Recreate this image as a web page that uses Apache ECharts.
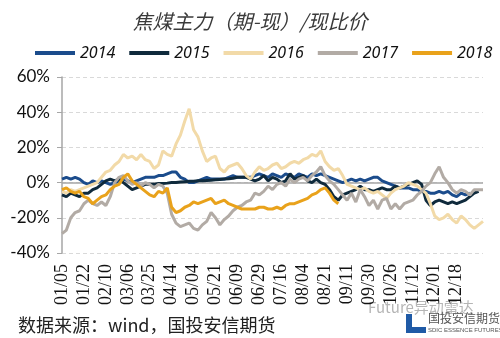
<!DOCTYPE html>
<html>
<head>
<meta charset="utf-8">
<script src="https://cdn.jsdelivr.net/npm/echarts@6/dist/echarts.min.js"></script>
<style>
  html, body { margin: 0; padding: 0; background: #fff; }
  #chart { width: 500px; height: 338px; }
</style>
</head>
<body>
<div id="chart"></div>
<script>
// Trading-day axis (MM/DD), every 5th date is labelled
const dates = [
  '01/05','01/08','01/11','01/15','01/18',
  '01/22','01/25','01/29','02/01','02/06',
  '02/10','02/14','02/20','02/26','03/01',
  '03/06','03/09','03/13','03/16','03/21',
  '03/25','03/29','04/02','04/07','04/10',
  '04/14','04/18','04/22','04/25','04/29',
  '05/04','05/07','05/10','05/14','05/17',
  '05/21','05/24','05/28','05/31','06/05',
  '06/09','06/13','06/17','06/21','06/25',
  '06/29','07/03','07/06','07/09','07/12',
  '07/16','07/19','07/23','07/26','07/31',
  '08/04','08/07','08/10','08/14','08/17',
  '08/21','08/25','08/29','09/02','09/06',
  '09/11','09/15','09/19','09/22','09/26',
  '09/30','10/10','10/15','10/18','10/22',
  '10/26','10/29','11/01','11/05','11/08',
  '11/12','11/15','11/19','11/22','11/27',
  '12/01','12/05','12/08','12/11','12/14',
  '12/18','12/20','12/21','12/24','12/26','12/28','12/31'
];
const labelEvery = 5;
const lastLabelled = '12/18';

// (futures - spot) / spot, in percent
const y2014 = [
  2,3,2,3,2, 0,-1,1,0,1, 0,-1,0,1,2, 1,0,1,2,3,
  3,3,4,4,5, 6,6,3,2,0, 0,1,2,3,2, 2,2,2,3,4,
  3,3,3,3,4, 5,4,3,5,4, 3,5,4,3,5, 4,3,5,4,5,
  4,3,2,1,0, 1,2,1,2,1, 2,3,3,1,0, -1,-2,-3,-3,-3,
  -4,-4,-5,-5,-6, -6,-5,-6,-5,-7, -8,-6,-7,-6,null, null,null
];
const y2015 = [
  -7,-8,-6,-7,-8, -6,-6,-4,-3,-1, 1,2,1,2,0, -2,-4,-3,-2,-1,
  -1,-1,-0.5,-0.5,-0.3, 0,0,0.3,0.5,0.7, 0.8,1,1,1.2,1.4, 1.6,1.8,2,2.2,2.5,
  3,3,3,2,1, 2,4,1,3,2, 0,1,5,2,3, 4,1,0,2,0,
  -1,-4,-8,-10,-7, -6,-5,-4,-2,-4, -4,-5,-4,-3,-4, -4,-2,-3,-2,-1,
  0,1,-1,-10,-13, -11,-10,-11,-12,-11, -12,-11,-10,-8,-6, -5,null
];
const y2016 = [
  -5,-6,-4,-5,-4, -3,-2,-1,0,3, 6,7,10,12,16, 14,15,13,16,13,
  12,8,10,18,16, 15,22,27,35,42, 30,26,18,12,14, 15,8,6,9,10,
  11,8,4,2,6, 9,7,8,10,11, 8,9,11,12,11, 13,14,16,15,18,
  12,9,7,8,4, -1,-2,-3,-4,-3, -5,-6,-5,-7,-9, -6,-4,-3,-2,0,
  -1,-2,-4,-6,-12, -19,-21,-20,-18,-21, -23,-19,-21,-24,-26, -24,-22
];
const y2017 = [
  -29,-27,-20,-17,-16, -12,-10,-12,-13,-11, -13,-8,0,3,4, 1,-1,0,-2,0,
  -1,-3,-1,-2,-6, -18,-23,-25,-24,-23, -26,-27,-24,-22,-17, -20,-24,-21,-19,-16,
  -14,-13,-11,-10,-6, -7,-5,-2,-4,-1, 0,-2,2,0,2, 3,1,4,6,9,
  4,1,-1,-4,-7, -10,-6,-11,-4,-8, -13,-10,-15,-10,-9, -15,-12,-15,-12,-11,
  -10,-7,-5,-2,0, 5,9,3,0,-4, -6,-4,-5,-7,-4, -4,-4
];
const y2018 = [
  -4,-3,-5,-6,-5, -8,-9,-12,-10,-8, -7,-4,-2,-1,3, 5,1,-1,-3,-5,
  -7,-8,-5,-6,-3, -14,-17,-16,-14,-13, -11,-12,-11,-10,-9, -12,-11,-10,-12,-13,
  -14,-15,-15,-15,-15, -14,-14,-15,-15,-14, -15,-13,-12,-12,-11, -10,-9,-7,-6,-4,
  -3,-6,-10,-12
];

const seriesNames = ['2014', '2015', '2016', '2017', '2018'];
const seriesData = [y2014, y2015, y2016, y2017, y2018];
const seriesColors = ['#1B4C8C', '#0F2A3C', '#F2DAA8', '#B2ABA5', '#E9A21B'];

// y-axis ticks in percent
const yMin = -40, yMax = 60, yStep = 20;

const chart = echarts.init(document.getElementById('chart'), null, { renderer: 'canvas' });

const series = seriesNames.map((name, k) => ({
  name,
  type: 'line',
  data: seriesData[k],
  symbol: 'none',
  connectNulls: false,
  lineStyle: { color: seriesColors[k], width: 3 },
  itemStyle: { color: seriesColors[k] },
  z: 3 + k
}));

// solid zero line across the plot
series[0].markLine = {
  silent: true,
  symbol: 'none',
  label: { show: false },
  lineStyle: { color: '#A6A6A6', type: 'solid', width: 1.5 },
  data: [{ yAxis: 0 }],
  z: 1
};

const lastLabelIndex = dates.indexOf(lastLabelled);

chart.setOption({
  animation: false,
  backgroundColor: '#fff',
  title: {
    text: '焦煤主力（期-现）/现比价',
    left: 'center',
    top: 6,
    textStyle: {
      fontFamily: 'Noto Sans CJK SC',
      fontStyle: 'italic',
      fontWeight: 'normal',
      fontSize: 20,
      color: '#3A3A3A'
    }
  },
  legend: {
    data: seriesNames,
    left: 30,
    top: 40,
    icon: 'rect',
    itemWidth: 40,
    itemHeight: 4,
    itemGap: 14,
    textStyle: {
      fontFamily: 'Noto Sans',
      fontStyle: 'italic',
      fontSize: 16,
      color: '#111'
    }
  },
  grid: { left: 62, right: 17, top: 77, bottom: 85, containLabel: false },
  xAxis: {
    type: 'category',
    data: dates,
    boundaryGap: false,
    axisLine: { show: false },
    axisTick: { show: false },
    splitLine: { show: false },
    axisLabel: {
      interval: (idx) => idx % labelEvery === 0 && idx <= lastLabelIndex,
      rotate: 90,
      margin: 11,
      fontFamily: '"Liberation Serif", "Times New Roman", serif',
      fontSize: 18,
      color: '#111'
    }
  },
  yAxis: {
    type: 'value',
    min: yMin,
    max: yMax,
    interval: yStep,
    axisLine: { show: true, lineStyle: { color: '#A6A6A6', width: 1.5 } },
    axisTick: { show: true, length: 5, lineStyle: { color: '#A6A6A6' } },
    splitLine: { show: true, lineStyle: { color: '#D9D9D9', type: [4, 3], width: 1 } },
    axisLabel: {
      formatter: '{value}%',
      margin: 12,
      fontFamily: 'Lato',
      fontSize: 17,
      color: '#111'
    }
  },
  graphic: [
    {
      type: 'text',
      left: 18,
      top: 316,
      style: {
        text: '数据来源：wind，国投安信期货',
        font: '18px "Noto Sans CJK SC"',
        fill: '#222'
      }
    },
    {
      type: 'text',
      left: 368,
      top: 300,
      style: {
        text: 'Future异动雷达',
        font: '15px "Noto Sans CJK SC"',
        fill: 'rgba(120,120,120,0.55)'
      }
    },
    {
      type: 'polygon',
      shape: { points: [[406, 314], [412, 314], [412, 327], [426, 327], [426, 333], [406, 333]] },
      style: { fill: '#1F5AA6' }
    },
    {
      type: 'text',
      left: 428,
      top: 312,
      style: {
        text: '国投安信期货',
        font: '12px "Noto Sans CJK SC"',
        fill: '#555'
      }
    },
    {
      type: 'text',
      left: 428,
      top: 327,
      style: {
        text: 'SDIC ESSENCE FUTURES',
        font: '6px "Liberation Sans"',
        fill: '#555'
      }
    }
  ],
  series
});
</script>
</body>
</html>
